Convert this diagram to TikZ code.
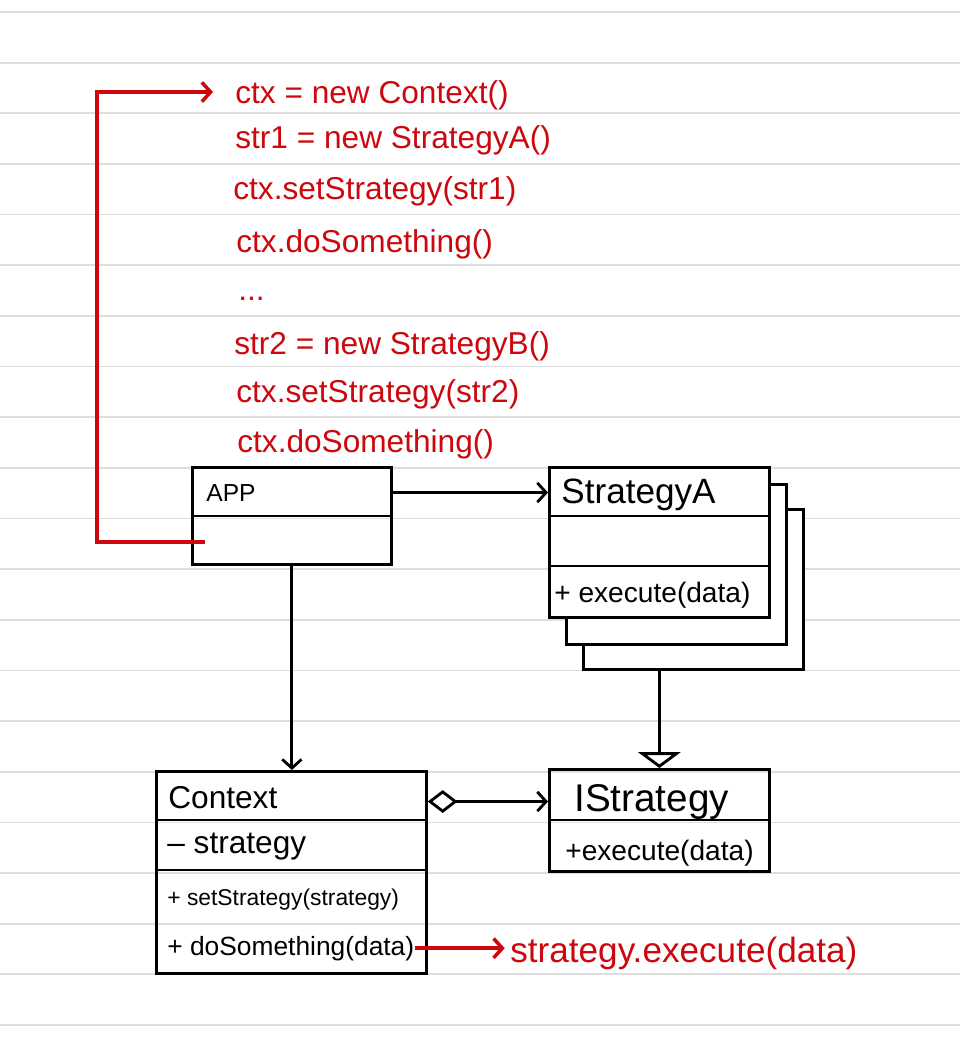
\documentclass[tikz,border=0pt]{standalone}
\usepackage{fontspec}
\setmainfont{Liberation Sans}
\usetikzlibrary{positioning, arrows.meta}
\definecolor{pen}{RGB}{204, 8, 14}
\definecolor{rule}{RGB}{222, 222, 222}

\begin{document}
\begin{tikzpicture}[x=0.02cm, y=-0.02cm,
    umlbox/.style={draw, line width=1.6pt, inner sep=0pt, anchor=north west},
    divider/.style={line width=1.6pt},
    member/.style={anchor=base west, inner sep=0pt},
    code/.style={pen, anchor=base west, inner sep=0pt, font=\fontsize{18}{20}\selectfont},
    assoc/.style={line width=1.6pt, -{Straight Barb[length=5pt, width=11pt]}},
    call/.style={pen, line width=2pt, -{Straight Barb[length=5pt, width=11pt]}}]

                % Paper
                \useasboundingbox (0,0) rectangle (960,1049);
                \fill[white] (0,0) rectangle (960,1049);
                \foreach \k in {0,...,20}
                    \draw[rule, line width=1pt] (0,{12+50.65*\k}) -- (960,{12+50.65*\k});

                % Client code
                \node[code] (l1) at (235,103) {ctx = new Context()};
                \node[code] (l2) at (235,148) {str1 = new StrategyA()};
                \node[code] (l3) at (233,199) {ctx.setStrategy(str1)};
                \node[code] (l4) at (236,252) {ctx.doSomething()};
                \node[code] (l5) at (238,300) {...};
                \node[code] (l6) at (234,354) {str2 = new StrategyB()};
                \node[code] (l7) at (236,402) {ctx.setStrategy(str2)};
                \node[code] (l8) at (237,452) {ctx.doSomething()};

                % Classes
                \node[umlbox, minimum width=3.98cm, minimum height=1.94cm] (app) at (191,466) {};
                \draw[divider] (app.west |- 0,516) -- (app.east |- 0,516);
                \node[member, font=\fontsize{14}{16}\selectfont] (apptitle) at (206,501) {APP};

                \node[umlbox, fill=white, minimum width=4.4cm, minimum height=3.2cm] (strc) at (582,508) {};
                \node[umlbox, fill=white, minimum width=4.4cm, minimum height=3.2cm] (strb) at (565,483) {};
                \node[umlbox, fill=white, minimum width=4.4cm, minimum height=3.0cm] (stra) at (548,466) {};
                \draw[divider] (stra.west |- 0,516) -- (stra.east |- 0,516);
                \draw[divider] (stra.west |- 0,566) -- (stra.east |- 0,566);
                \node[member, font=\fontsize{20}{22}\selectfont] (stratitle) at (561,503) {StrategyA};
                \node[member, font=\fontsize{16}{18}\selectfont] (straexec) at (554,602) {+ execute(data)};

                \node[umlbox, minimum width=4.4cm, minimum height=2.04cm] (istr) at (548,768) {};
                \draw[divider] (istr.west |- 0,820) -- (istr.east |- 0,820);
                \node[member, font=\fontsize{22}{24}\selectfont] (istrtitle) at (574,811) {IStrategy};
                \node[member, font=\fontsize{16}{18}\selectfont] (istrexec) at (565,860) {+execute(data)};

                \node[umlbox, minimum width=5.4cm, minimum height=4.04cm] (context) at (155,770) {};
                \draw[divider] (context.west |- 0,820) -- (context.east |- 0,820);
                \draw[divider] (context.west |- 0,870) -- (context.east |- 0,870);
                \node[member, font=\fontsize{18}{20}\selectfont] (ctxtitle) at (168,808) {Context};
                \node[member, font=\fontsize{18}{20}\selectfont] (ctxfield) at (167,853) {-- strategy};
                \node[member, font=\fontsize{13}{15}\selectfont] (setstr) at (167,905) {+ setStrategy(strategy)};
                \node[member, font=\fontsize{15}{17}\selectfont] (dosome) at (167,955) {+ doSomething(data)};

                \node[code, font=\fontsize{20}{22}\selectfont] (execline) at (510,962) {strategy.execute(data)};

                % Edges
                \draw[assoc] (app.east |- apptitle) -- (stra.west |- apptitle);
                \draw[assoc] (app.south) -- (app.south |- context.north);
                \draw[line width=1.6pt, -{Triangle[open, length=9pt, width=24pt]}] (strc.south -| istr.north) -- (istr.north);
                \draw[line width=1.6pt, {Diamond[open, length=17pt, width=13pt]}-{Straight Barb[length=5pt, width=11pt]}]
                    (context.east |- istrtitle) -- (istr.west |- istrtitle);

                % Calls
                \coordinate (appcall) at (205,542);
                \coordinate (entry) at (213,92);
                \draw[call] (appcall) -- ++(-108,0) |- (entry);
                \draw[call, shorten >=3pt] (dosome.east) -- (dosome.east -| execline.west);
            \end{tikzpicture}
\end{document}
